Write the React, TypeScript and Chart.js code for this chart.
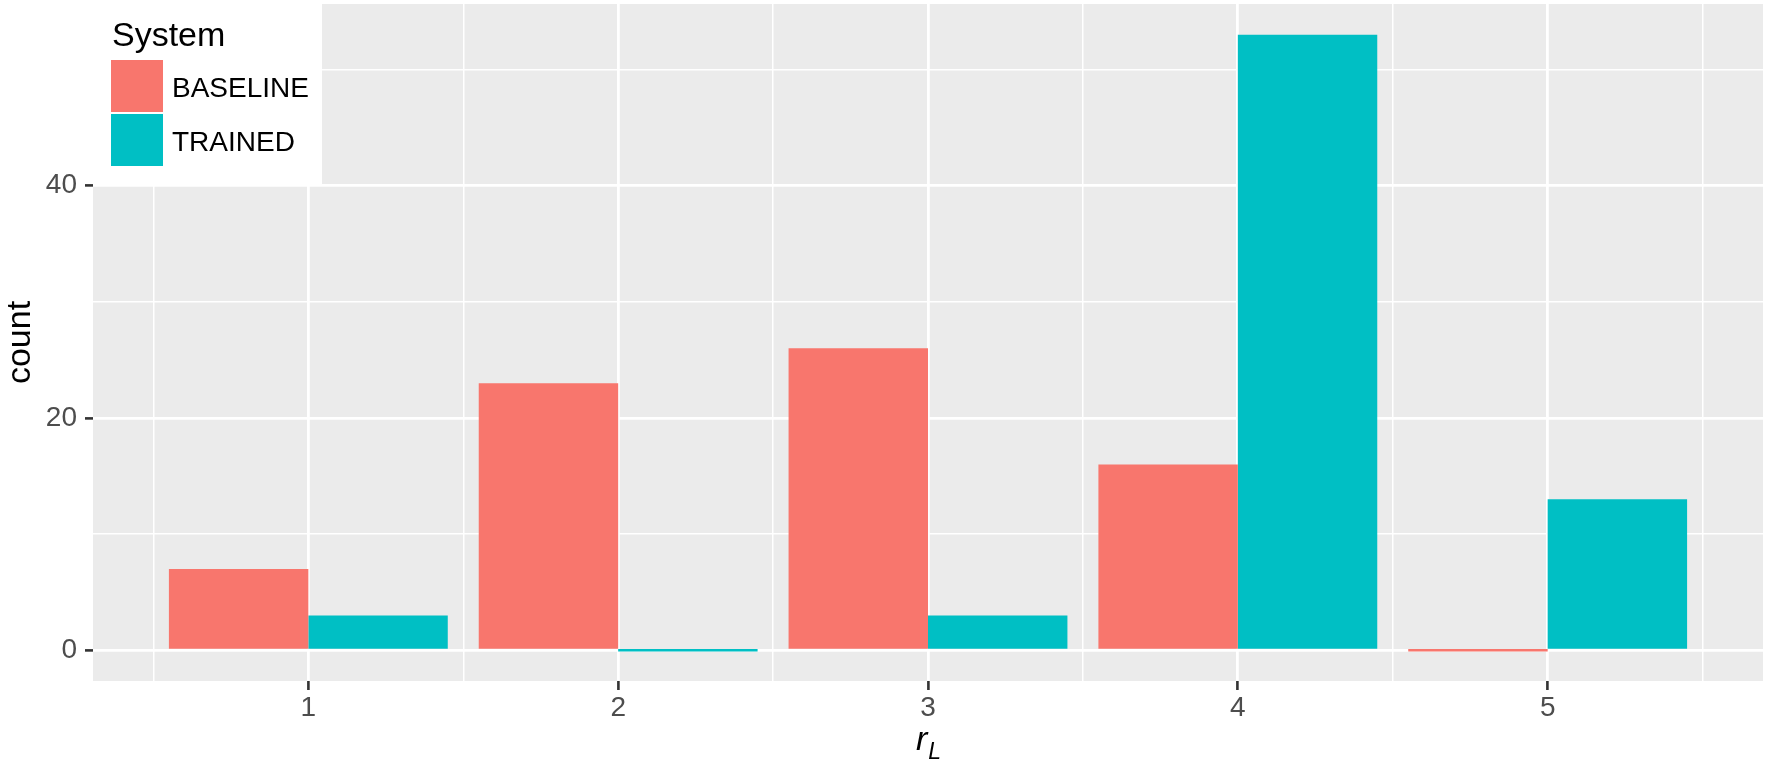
import React, { useEffect, useRef } from 'react';
import { Chart, registerables } from 'chart.js';

Chart.register(...registerables);

// ---- data ----
const categories = ['1', '2', '3', '4', '5'];
const seriesNames = ['BASELINE', 'TRAINED'];
const baselineCounts = [7, 23, 26, 16, 0];
const trainedCounts = [3, 0, 3, 53, 13];
const yMajorTicks = [0, 20, 40];
const yMinorTicks = [10, 30, 50];
const legendTitle = 'System';
const yAxisTitle = 'count';
const xAxisTitleMain = 'r';
const xAxisTitleSub = 'L';
const seriesColors = ['#F8766D', '#00BFC4'];

const FONT = '"Liberation Sans", Arial, Helvetica, sans-serif';

// positions of categories on a continuous axis (1..n)
const xMajor = categories.map((_, i) => i + 1);
const xMinor = [...categories.map((_, i) => i + 0.5), categories.length + 0.5];
const barHalf = 0.45;
const xLo = 1 - barHalf;
const xHi = categories.length + barHalf;
const xPad = (xHi - xLo) * 0.05;
const yMaxData = Math.max(...baselineCounts, ...trainedCounts);
const yPad = yMaxData * 0.05;

const isMajorX = (v: number) => Math.abs(v - Math.round(v)) < 1e-6;
const isMajorY = (v: number) => yMajorTicks.includes(v);

const panelBg = {
  id: 'panelBg',
  beforeDraw(chart: any) {
    const { ctx, chartArea: a } = chart;
    ctx.save();
    ctx.fillStyle = '#EBEBEB';
    ctx.fillRect(a.left, a.top, a.right - a.left, a.bottom - a.top);
    ctx.restore();
  },
};

const overlay = {
  id: 'overlay',
  afterDraw(chart: any) {
    const { ctx, chartArea: a } = chart;
    ctx.save();
    // legend box
    const L = a.left;
    const T = a.top;
    ctx.fillStyle = '#FFFFFF';
    ctx.fillRect(L, T, 229, 181);
    ctx.fillStyle = '#000000';
    ctx.textBaseline = 'alphabetic';
    ctx.textAlign = 'left';
    ctx.font = `34px ${FONT}`;
    ctx.fillText(legendTitle, L + 19, T + 42);
    ctx.font = `28px ${FONT}`;
    seriesNames.forEach((name, i) => {
      ctx.fillStyle = seriesColors[i];
      ctx.fillRect(L + 18, T + 56 + i * 54, 52, 52);
      ctx.fillStyle = '#000000';
      ctx.fillText(name, L + 79, T + 93 + i * 54);
    });
    // x axis title r_L
    ctx.fillStyle = '#000000';
    ctx.font = `italic 34px ${FONT}`;
    const wr = ctx.measureText(xAxisTitleMain).width;
    ctx.font = `italic 23px ${FONT}`;
    const wl = ctx.measureText(xAxisTitleSub).width;
    const start = (a.left + a.right) / 2 - (wr + wl) / 2;
    ctx.font = `italic 34px ${FONT}`;
    ctx.fillText(xAxisTitleMain, start, a.bottom + 69);
    ctx.font = `italic 23px ${FONT}`;
    ctx.fillText(xAxisTitleSub, start + wr + 1, a.bottom + 78);
    ctx.restore();
  },
};

export default function App() {
  const ref = useRef<HTMLCanvasElement | null>(null);

  useEffect(() => {
    if (!ref.current) return;
    const chart = new Chart(ref.current, {
      type: 'bar',
      data: {
        datasets: [
          {
            label: seriesNames[0],
            data: baselineCounts.map((v, i) => ({ x: xMajor[i], y: v })),
            backgroundColor: seriesColors[0],
            borderWidth: 0,
            minBarLength: 2.5,
          },
          {
            label: seriesNames[1],
            data: trainedCounts.map((v, i) => ({ x: xMajor[i], y: v })),
            backgroundColor: seriesColors[1],
            borderWidth: 0,
            minBarLength: 2.5,
          },
        ],
      },
      options: {
        animation: false,
        responsive: true,
        maintainAspectRatio: false,
        devicePixelRatio: 1,
        datasets: {
          // the bar ruler uses the half-unit tick spacing, so 1.8 x 0.5 = 0.9 of a category
          bar: { categoryPercentage: 1.8, barPercentage: 1.0 },
        },
        layout: { padding: { top: 4, right: 9, left: 0, bottom: 0 } },
        plugins: {
          legend: { display: false },
          tooltip: { enabled: false },
          title: { display: false },
        },
        scales: {
          x: {
            type: 'linear',
            min: xLo - xPad,
            max: xHi + xPad,
            offset: false,
            afterBuildTicks: (scale: any) => {
              scale.ticks = [...xMajor, ...xMinor]
                .sort((p, q) => p - q)
                .map((v) => ({ value: v }));
            },
            afterFit: (scale: any) => {
              scale.height = 87;
              scale.paddingLeft = 0;
              scale.paddingRight = 0;
            },
            border: { display: false },
            grid: {
              offset: false,
              drawOnChartArea: true,
              drawTicks: true,
              tickLength: 9,
              color: '#FFFFFF',
              lineWidth: (c: any) => (c.tick && isMajorX(c.tick.value) ? 2.8 : 1.5),
              tickColor: (c: any) => (c.tick && isMajorX(c.tick.value) ? '#333333' : 'rgba(0,0,0,0)'),
              tickWidth: 2.6,
            },
            ticks: {
              autoSkip: false,
              maxRotation: 0,
              minRotation: 0,
              padding: 1,
              color: '#4D4D4D',
              font: { family: FONT, size: 28 },
              callback: (v: any) => {
                const n = Number(v);
                return isMajorX(n) ? categories[Math.round(n) - 1] ?? '' : '';
              },
            },
            title: { display: false },
          },
          y: {
            type: 'linear',
            min: -yPad,
            max: yMaxData + yPad,
            afterBuildTicks: (scale: any) => {
              scale.ticks = [...yMajorTicks, ...yMinorTicks]
                .sort((p, q) => p - q)
                .map((v) => ({ value: v }));
            },
            afterFit: (scale: any) => {
              scale.width = 93;
              scale.paddingTop = 0;
              scale.paddingBottom = 0;
            },
            border: { display: false },
            grid: {
              drawOnChartArea: true,
              drawTicks: true,
              tickLength: 8,
              color: '#FFFFFF',
              lineWidth: (c: any) => (c.tick && isMajorY(c.tick.value) ? 2.8 : 1.5),
              tickColor: (c: any) => (c.tick && isMajorY(c.tick.value) ? '#333333' : 'rgba(0,0,0,0)'),
              tickWidth: 2.6,
            },
            ticks: {
              autoSkip: false,
              padding: 8,
              color: '#4D4D4D',
              font: { family: FONT, size: 28 },
              callback: (v: any) => (isMajorY(Number(v)) ? String(v) : ''),
            },
            title: {
              display: true,
              text: yAxisTitle,
              color: '#000000',
              font: { family: FONT, size: 34 },
              padding: { top: 0, bottom: 0 },
            },
          },
        },
      },
      plugins: [panelBg, overlay],
    } as any);
    return () => chart.destroy();
  }, []);

  return (
    <div
      style={{
        position: 'fixed',
        left: 0,
        top: 0,
        width: '1772px',
        height: '768px',
        background: '#FFFFFF',
      }}
    >
      <canvas ref={ref} />
    </div>
  );
}
